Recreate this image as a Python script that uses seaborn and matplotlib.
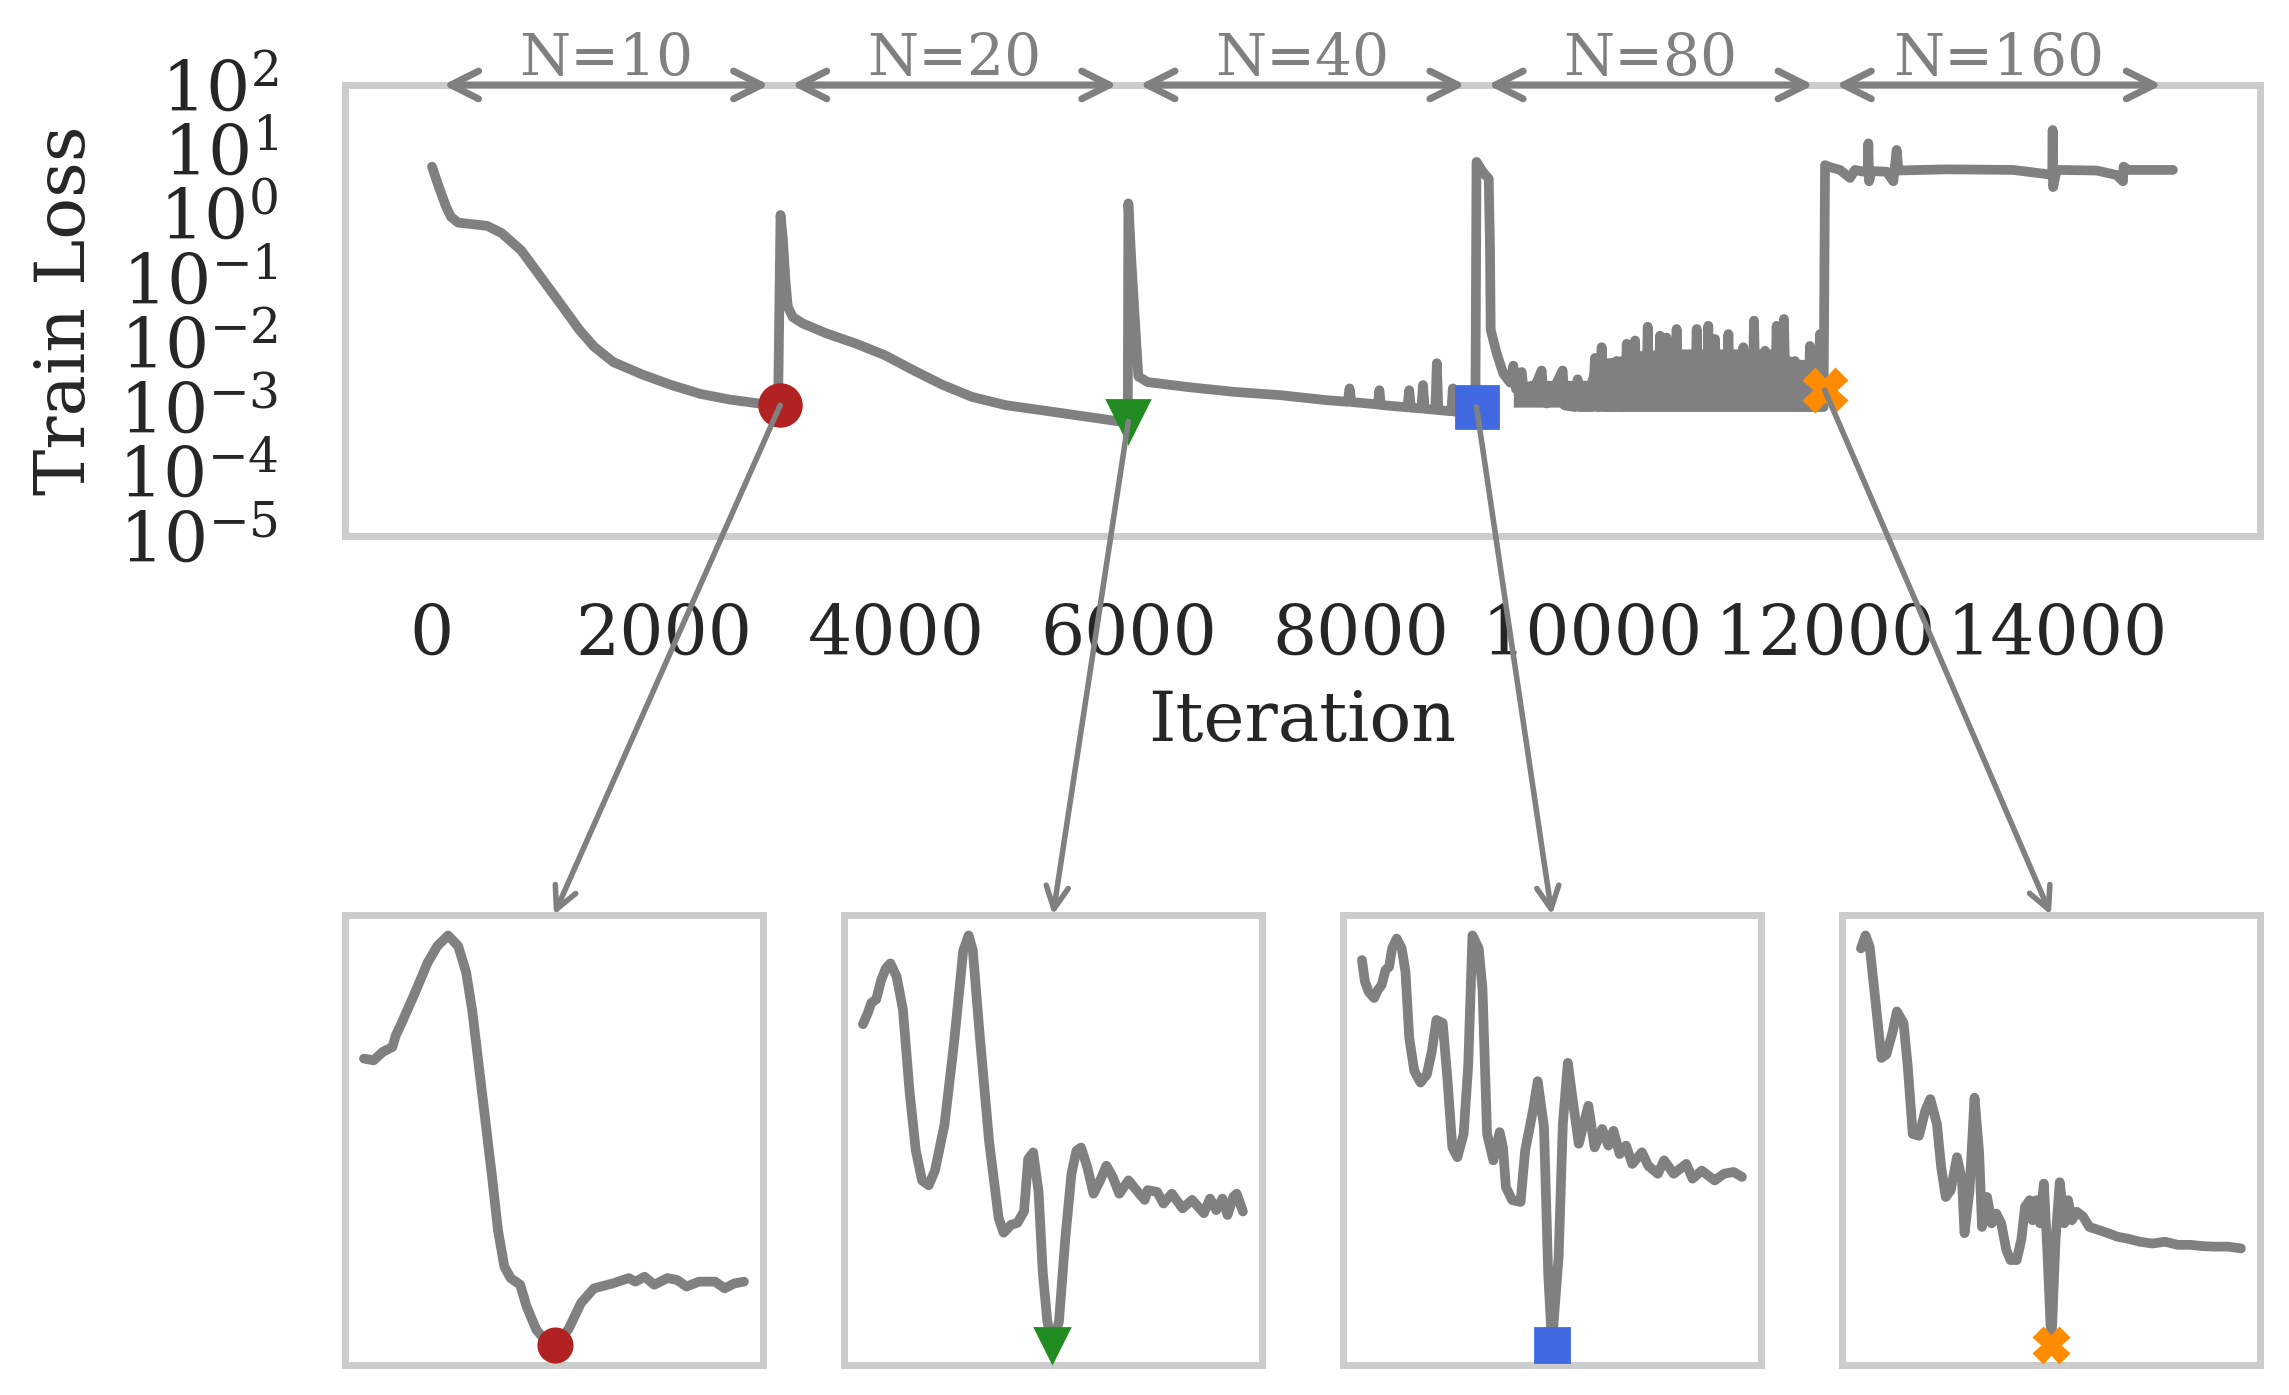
"""
Train loss over iterations with growing N, plus zoomed views around the minima
"""

import numpy as np
import seaborn as sns
import matplotlib.pyplot as plt
from matplotlib.patches import ConnectionPatch
from matplotlib.ticker import NullLocator

# ---- main curve, one piece per stage (iteration, loss) ----
seg10_iter = [0, 58, 121, 163, 225, 351, 476, 601, 769, 935, 1103, 1270, 1395,
              1562, 1813, 2063, 2314, 2564, 2815, 2982]
seg10_loss = [5.4, 2.64, 1.29, 0.90, 0.73, 0.69, 0.65, 0.50, 0.27, 0.106, 0.041,
              0.0158, 0.0087, 0.0050, 0.0032, 0.0022, 0.0016, 0.00131, 0.00114,
              0.00105]

seg20_iter = [3003, 3024, 3045, 3066, 3108, 3191, 3400, 3651, 3901, 4152, 4402,
              4653, 4945, 5280, 5614, 5948, 5995]
seg20_loss = [0.96, 0.39, 0.093, 0.036, 0.025, 0.020, 0.0139, 0.0097, 0.0064,
              0.0037, 0.0022, 0.00144, 0.00107, 0.00088, 0.00072, 0.00059, 0.00058]

seg40_iter = [6000, 6027, 6055, 6086, 6165, 6521, 6917, 7313, 7708, 7890, 7906,
              7922, 8104, 8150, 8163, 8176, 8405, 8420, 8435, 8525, 8539, 8553,
              8645, 8658, 8671, 8783, 8796, 8809, 8895, 8990]
seg40_loss = [1.45, 0.17, 0.025, 0.0030, 0.00245, 0.00204, 0.00172, 0.00153,
              0.00128, 0.00121, 0.00195, 0.0012, 0.00112, 0.0011, 0.00183,
              0.00108, 0.00099, 0.00183, 0.00098, 0.00095, 0.0022, 0.00094,
              0.00091, 0.0048, 0.0009, 0.00086, 0.00195, 0.00085, 0.00082, 0.0008]

seg80_iter = [9000, 9053, 9105, 9116, 9122, 9174, 9231, 9290, 9317, 9340, 9389,
              9410, 9461, 9561, 9580, 9604, 9742, 9760, 9850, 9871, 9890,
              10000, 10021, 10040, 10060, 10078, 10095, 10190, 10208, 10225,
              10280, 10294, 10310, 10350, 10366, 10382, 10460, 10475, 10490,
              10566, 10581, 10596, 10623, 10638, 10653, 10709, 10724, 10739,
              10882, 10897, 10912, 10982, 10997, 11012, 11040, 11055, 11070,
              11155, 11170, 11185, 11284, 11299, 11314, 11376, 11391, 11406,
              11471, 11486, 11501, 11571, 11586, 11601, 11634, 11649, 11664,
              11729, 11744, 11759, 11858, 11873, 11888, 11944, 11959, 11974, 11990]
seg80_loss = [6.4, 4.5, 3.5, 0.3, 0.0158, 0.0068, 0.0033, 0.0024, 0.0044,
              0.0019, 0.0035, 0.0016, 0.00136, 0.0037, 0.0012, 0.00114, 0.0037,
              0.00106, 0.001, 0.0027, 0.001,
              0.001, 0.0058, 0.001, 0.001, 0.0085, 0.001, 0.001, 0.0052, 0.001,
              0.001, 0.0096, 0.001, 0.001, 0.0108, 0.001, 0.001, 0.0177, 0.001,
              0.001, 0.0128, 0.001, 0.001, 0.012, 0.001, 0.001, 0.0163, 0.001,
              0.001, 0.0163, 0.001, 0.001, 0.0183, 0.001, 0.001, 0.0114, 0.001,
              0.001, 0.0136, 0.001, 0.001, 0.0085, 0.001, 0.001, 0.022, 0.001,
              0.001, 0.0075, 0.001, 0.001, 0.0183, 0.001, 0.001, 0.0233, 0.001,
              0.001, 0.0052, 0.001, 0.001, 0.0089, 0.001, 0.001, 0.0136, 0.001,
              0.001]

seg160_iter = [12003, 12031, 12132, 12218, 12261, 12333, 12370, 12376, 12382,
               12405, 12534, 12591, 12620, 12635, 13051, 13625, 13884, 13960,
               13964, 13968, 13999, 14343, 14516, 14570, 14575, 14616, 15000]
seg160_loss = [5.7, 5.4, 4.8, 3.6, 4.8, 4.5, 4.6, 12.4, 3.2, 4.6, 4.5, 3.2, 9.8,
               4.7, 4.9, 4.8, 4.2, 4.0, 20.0, 2.6, 4.8, 4.7, 4.0, 3.2, 5.4, 4.8, 4.8]

# dense oscillation band in the N=80 stage (upper envelope above the floor)
band_iter = [9317, 9461, 9604, 9748, 9950, 10010, 10200, 10400, 10700, 11000,
             11300, 11600, 11750, 11900, 11960]
band_top = [0.0021, 0.0026, 0.0026, 0.0026, 0.0026, 0.0055, 0.006, 0.0075,
            0.008, 0.008, 0.008, 0.008, 0.0055, 0.0055, 0.005]
band_floor = 0.001

# stages
stage_n = [10, 20, 40, 80, 160]
stage_start = [0, 3000, 6000, 9000, 12000]
stage_len = 3000

# highlighted minima
marker_iter = [3000, 6000, 9000, 12000]
marker_loss = [1.07e-3, 6.0e-4, 1.0e-3, 1.84e-3]
marker_shape = ["o", "v", "s", "X"]
marker_color = ["firebrick", "forestgreen", "royalblue", "darkorange"]

# ---- zoomed windows (step, relative loss) ----
zoom1_step = [4.6, 6.9, 9.1, 11.4, 12.2, 13.7, 16.8, 19.8, 22.1, 24.7, 27.1, 29.0,
              30.5, 32.0, 33.5, 35.1, 36.6, 38.1, 39.6, 41.9, 43.4, 45.7, 48.0,
              50.3, 53.4, 56.4, 59.5, 64.0, 67.8, 69.4, 71.6, 73.9, 77.0, 79.3,
              81.6, 84.6, 88.4, 90.7, 93.0, 95.3]
zoom1_val = [68.5, 68.1, 70.0, 71.1, 73.7, 76.7, 83.3, 90.0, 93.7, 96.1, 93.7,
             87.8, 78.9, 67.0, 55.2, 42.6, 30.0, 21.9, 19.3, 17.8, 13.0, 7.8, 5.2,
             4.4, 7.8, 13.7, 17.0, 18.1, 19.3, 18.5, 19.6, 17.8, 19.3, 18.9, 17.4,
             18.5, 18.5, 17.0, 18.1, 18.5]

zoom2_step = [4.4, 5.6, 6.4, 7.6, 8.7, 9.9, 11.0, 12.5, 14.0, 15.6, 17.1, 18.6,
              20.2, 21.7, 24.0, 26.3, 28.5, 29.8, 30.8, 32.4, 34.7, 37.0, 38.2,
              40.0, 41.5, 43.1, 44.1, 45.3, 46.6, 47.6, 48.7, 49.9, 51.5, 53.0,
              54.5, 55.7, 56.8, 58.3, 59.8, 61.4, 62.9, 64.4, 66.0, 68.2, 70.1,
              72.1, 72.8, 75.1, 76.6, 78.6, 81.2, 83.5, 86.3, 87.8, 89.3, 90.8,
              92.0, 93.4, 94.2, 95.7]
zoom2_val = [76.3, 78.9, 81.1, 81.9, 86.0, 88.9, 90.0, 87.0, 79.6, 61.1, 47.8,
             41.1, 40.0, 43.3, 53.7, 72.2, 92.9, 96.3, 92.9, 74.4, 50.0, 32.6,
             29.3, 31.1, 31.5, 34.1, 45.9, 47.4, 38.5, 20.4, 9.3, 4.1, 9.3, 27.8,
             42.6, 47.8, 48.5, 44.1, 38.1, 41.1, 44.4, 41.9, 38.1, 41.1, 38.9,
             36.7, 38.9, 38.5, 35.9, 38.1, 34.8, 36.7, 33.7, 37.0, 34.4, 37.0,
             33.3, 37.4, 38.1, 34.1]

zoom3_step = [4.4, 5.1, 6.0, 7.3, 8.2, 9.1, 10.0, 10.9, 11.6, 12.7, 13.9, 14.8,
              15.7, 16.9, 18.4, 19.9, 21.1, 22.2, 23.7, 24.8, 26.0, 27.2, 28.7,
              29.8, 30.8, 32.3, 33.2, 34.3, 35.8, 37.3, 38.1, 38.8, 40.3, 42.3,
              43.4, 45.3, 46.4, 47.9, 48.9, 49.8, 51.4, 52.4, 53.6, 54.7, 56.2,
              58.5, 60.0, 61.8, 63.3, 64.5, 66.0, 67.5, 69.0, 71.3, 72.8, 75.1,
              76.6, 78.9, 81.9, 83.4, 85.6, 88.7, 90.9, 93.2, 95.2]
zoom3_val = [90.4, 85.6, 83.3, 81.9, 83.7, 84.8, 88.1, 88.9, 93.0, 95.2, 93.0,
             87.8, 73.0, 65.6, 63.0, 64.8, 70.0, 77.0, 76.3, 64.1, 48.5, 46.3,
             51.5, 67.0, 95.9, 93.0, 84.1, 51.5, 45.6, 51.9, 48.5, 39.6, 36.7,
             36.3, 47.8, 56.9, 63.3, 53.0, 20.4, 4.4, 24.1, 53.7, 67.4, 59.6,
             49.3, 57.8, 48.5, 52.6, 48.9, 52.2, 47.0, 48.9, 44.8, 47.4, 44.4,
             42.6, 45.6, 42.6, 44.8, 41.5, 43.3, 41.1, 42.6, 43.0, 41.9]

zoom4_step = [4.2, 5.3, 6.3, 7.6, 9.1, 10.3, 11.8, 12.8, 14.4, 15.4, 16.6, 18.1,
              19.6, 20.8, 22.4, 23.4, 24.5, 25.7, 27.2, 28.4, 29.0, 30.2, 31.4,
              32.5, 33.2, 34.4, 35.5, 36.6, 37.8, 39.0, 40.0, 41.5, 42.6, 43.5,
              44.6, 45.3, 46.2, 47.1, 48.0, 48.9, 49.8, 50.8, 51.8, 52.9, 53.8,
              54.7, 55.9, 57.4, 58.9, 61.2, 63.4, 65.7, 68.0, 71.0, 74.0, 77.0,
              80.1, 83.1, 86.1, 89.1, 92.1, 95.2]
zoom4_val = [93.0, 95.9, 93.3, 81.9, 68.5, 69.3, 74.4, 78.9, 76.3, 66.7, 51.5,
             51.1, 56.7, 59.3, 53.7, 44.1, 37.4, 38.9, 46.3, 41.1, 29.3, 38.9,
             59.6, 47.4, 30.7, 37.4, 31.5, 33.7, 31.5, 25.6, 23.3, 23.3, 27.8,
             35.2, 36.7, 32.2, 36.7, 31.5, 40.4, 24.1, 4.4, 27.8, 40.7, 31.5,
             36.7, 32.2, 34.1, 33.0, 30.7, 30.0, 29.3, 28.5, 28.1, 27.4, 27.0,
             27.4, 26.7, 26.7, 26.4, 26.3, 26.3, 25.9]

zoom_steps = [zoom1_step, zoom2_step, zoom3_step, zoom4_step]
zoom_vals = [zoom1_val, zoom2_val, zoom3_val, zoom4_val]

sns.set_theme(style="whitegrid")
plt.rcParams["font.family"] = ["DejaVu Serif"]
plt.rcParams["mathtext.fontset"] = "dejavuserif"
plt.rcParams["axes.grid"] = False

line_kw = dict(color="gray", linewidth=3.5, solid_capstyle="round",
               solid_joinstyle="round")

fig = plt.figure(figsize=(11.445, 6.975), dpi=200)
ax = fig.add_axes([0.1507, 0.6158, 0.8366, 0.3233])

all_iter = seg10_iter + seg20_iter + seg40_iter + seg80_iter + seg160_iter
all_loss = seg10_loss + seg20_loss + seg40_loss + seg80_loss + seg160_loss
ax.fill_between(band_iter, band_floor, band_top, color="gray", lw=0)
sns.lineplot(x=all_iter, y=all_loss, sort=False, estimator=None, ax=ax, **line_kw)

for xi, yi, m, c in zip(marker_iter, marker_loss, marker_shape, marker_color):
    ax.plot(xi, yi, marker=m, color=c, markersize=15, linestyle="none", zorder=5)

ax.set_yscale("log")
ax.set_ylim(1e-5, 1e2)
ax.set_yticks([1e-5, 1e-4, 1e-3, 1e-2, 1e-1, 1e0, 1e1, 1e2])
ax.yaxis.set_minor_locator(NullLocator())
ax.set_xticks(range(0, 15000, 2000))
ax.tick_params(axis="x", length=0, pad=24, labelsize=25)
ax.tick_params(axis="y", length=0, pad=24, labelsize=25)
ax.set_xlabel("Iteration", fontsize=25, labelpad=7)
ax.set_ylabel("Train Loss", fontsize=25, labelpad=7)
for sp in ax.spines.values():
    sp.set_color("#cccccc")
    sp.set_linewidth(2.5)

# stage brackets on top of the main axes
trans = ax.get_xaxis_transform()
for n, s in zip(stage_n, stage_start):
    ax.annotate("", xy=(s, 1.0), xycoords=trans, xytext=(s + stage_len, 1.0),
                textcoords=trans,
                arrowprops=dict(arrowstyle="<->", color="gray", lw=2.5,
                                mutation_scale=25, shrinkA=4, shrinkB=4),
                annotation_clip=False)
    ax.text(s + stage_len / 2, 1.022, f"N={n}", transform=trans, ha="center",
            va="baseline", color="gray", fontsize=21)

# zoomed panels
inset_left = [0.1507, 0.3687, 0.5867, 0.8047]
for i in range(4):
    iax = fig.add_axes([inset_left[i], 0.0215, 0.1826, 0.3226])
    steps = np.array(zoom_steps[i])
    vals = np.array(zoom_vals[i])
    sns.lineplot(x=steps, y=vals, sort=False, estimator=None, ax=iax, **line_kw)
    k = int(np.argmin(vals))
    iax.plot(steps[k], vals[k], marker=marker_shape[i], color=marker_color[i],
             markersize=12, linestyle="none", zorder=5)
    iax.set_xticks([])
    iax.set_yticks([])
    for sp in iax.spines.values():
        sp.set_color("#cccccc")
        sp.set_linewidth(2.5)
    con = ConnectionPatch(xyA=(marker_iter[i], marker_loss[i]), coordsA=ax.transData,
                          xyB=(0.5, 1.0), coordsB=iax.transAxes,
                          arrowstyle="->", color="gray", lw=2,
                          mutation_scale=20, shrinkA=0, shrinkB=0)
    fig.add_artist(con)

fig.savefig("out.png", dpi=200)
